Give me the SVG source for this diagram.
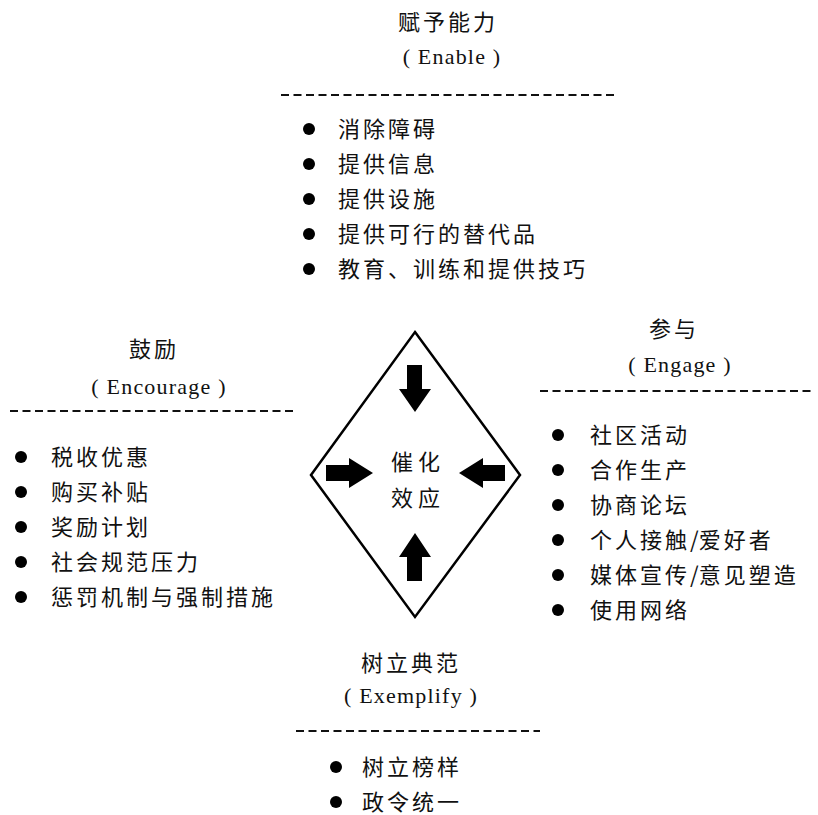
<svg xmlns="http://www.w3.org/2000/svg" width="818" height="815" viewBox="0 0 818 815">
<style>
.cj{font-family:"Noto Sans CJK SC","Noto Sans CJK JP",sans-serif;font-size:22px;letter-spacing:3px;fill:#111}
.en{font-family:"Liberation Serif","Times New Roman",serif;font-size:22px;letter-spacing:1.2px;fill:#111;text-anchor:middle}
.dash{stroke:#111;stroke-width:2;stroke-dasharray:8 4.5;fill:none}
.dot{fill:#000}
.arr{fill:#000}
</style>
<rect width="818" height="815" fill="#fff"/>

<g id="enable">
<text class="cj" x="398" y="30">赋予能力</text>
<text class="en" x="452" y="64">( Enable )</text>
<line class="dash" x1="281" y1="95" x2="617" y2="95"/>
<circle class="dot" cx="309" cy="129" r="6"/><text class="cj" x="338" y="137">消除障碍</text>
<circle class="dot" cx="309" cy="164" r="6"/><text class="cj" x="338" y="172">提供信息</text>
<circle class="dot" cx="309" cy="199" r="6"/><text class="cj" x="338" y="207">提供设施</text>
<circle class="dot" cx="309" cy="234" r="6"/><text class="cj" x="338" y="242">提供可行的替代品</text>
<circle class="dot" cx="309" cy="269" r="6"/><text class="cj" x="338" y="277">教育、训练和提供技巧</text>
</g>

<g id="encourage">
<text class="cj" x="129" y="357">鼓励</text>
<text class="en" x="159" y="394">( Encourage )</text>
<line class="dash" x1="10" y1="411" x2="297" y2="411"/>
<circle class="dot" cx="21" cy="457" r="6"/><text class="cj" x="51" y="465">税收优惠</text>
<circle class="dot" cx="21" cy="492" r="6"/><text class="cj" x="51" y="500">购买补贴</text>
<circle class="dot" cx="21" cy="527" r="6"/><text class="cj" x="51" y="535">奖励计划</text>
<circle class="dot" cx="21" cy="562" r="6"/><text class="cj" x="51" y="570">社会规范压力</text>
<circle class="dot" cx="21" cy="597" r="6"/><text class="cj" x="51" y="605">惩罚机制与强制措施</text>
</g>

<g id="engage">
<text class="cj" x="649" y="337">参与</text>
<text class="en" x="680" y="372">( Engage )</text>
<line class="dash" x1="540" y1="391" x2="815" y2="391"/>
<circle class="dot" cx="558" cy="435" r="6"/><text class="cj" x="590" y="443">社区活动</text>
<circle class="dot" cx="558" cy="470" r="6"/><text class="cj" x="590" y="478">合作生产</text>
<circle class="dot" cx="558" cy="505" r="6"/><text class="cj" x="590" y="513">协商论坛</text>
<circle class="dot" cx="558" cy="540" r="6"/><text class="cj" x="590" y="548">个人接触<tspan style="letter-spacing:0">/</tspan>爱好者</text>
<circle class="dot" cx="558" cy="575" r="6"/><text class="cj" x="590" y="583">媒体宣传<tspan style="letter-spacing:0">/</tspan>意见塑造</text>
<circle class="dot" cx="558" cy="610" r="6"/><text class="cj" x="590" y="618">使用网络</text>
</g>

<g id="exemplify">
<text class="cj" x="361" y="671">树立典范</text>
<text class="en" x="411" y="703">( Exemplify )</text>
<line class="dash" x1="296" y1="731" x2="540" y2="731"/>
<circle class="dot" cx="336" cy="767" r="6"/><text class="cj" x="362" y="775">树立榜样</text>
<circle class="dot" cx="336" cy="802" r="6"/><text class="cj" x="362" y="810">政令统一</text>
</g>

<g id="catalyst">
<polygon points="415,332 520,475 415,617 311,475" fill="#fff" stroke="#000" stroke-width="2.5"/>
<text class="cj" x="391" y="470" style="letter-spacing:5px">催化</text>
<text class="cj" x="391" y="506" style="letter-spacing:5px">效应</text>
</g>

<g id="connectors">
<polygon class="arr" points="407,365 422,365 422,389 431,389 415,412 399,389 407,389"/>
<polygon class="arr" points="407,581 422,581 422,557 431,557 415,533 399,557 407,557"/>
<polygon class="arr" points="326,465 349,465 349,458 373,473 349,488 349,481 326,481"/>
<polygon class="arr" points="505,465 483,465 483,458 459,473 483,488 483,481 505,481"/>
</g>
</svg>
